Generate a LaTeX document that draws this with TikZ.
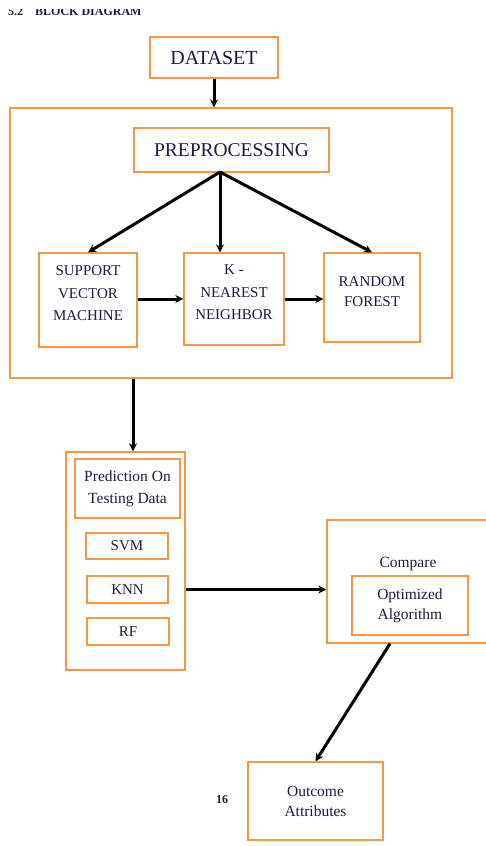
\documentclass[tikz,border=0pt]{standalone}
\usepackage{fontspec}
\setmainfont{Liberation Serif}
\usetikzlibrary{arrows.meta,positioning,calc}
\definecolor{boxline}{RGB}{247,150,70}
\definecolor{boxtext}{RGB}{28,28,62}
\tikzset{
  block/.style={rectangle,draw=boxline,line width=1.3pt,text=boxtext,align=center,inner sep=0pt},
  flow/.style={-{Stealth[length=8pt,width=8pt]},line width=3pt,black},
}

\begin{document}
\begin{tikzpicture}[x=1pt,y=-1pt]
  \useasboundingbox (0,0) rectangle (485,846);
  \begin{scope}
    \clip (0,9.5) rectangle (485,846);
    \node[anchor=base west,font=\fontsize{12}{14}\selectfont\bfseries,text=boxtext,inner sep=0pt] (title) at (8,15) {5.2\quad BLOCK DIAGRAM};
  \end{scope}
  % top part
  \node[block,minimum width=128pt,minimum height=41pt,font=\fontsize{20}{22}\selectfont] (dataset) at (214,57.5) {DATASET};
  \node[block,minimum width=442pt,minimum height=270pt] (models) at (231,243) {};
  \node[block,minimum width=195pt,minimum height=44pt,font=\fontsize{19.5}{22}\selectfont] (prep) at (231.5,150) {PREPROCESSING};
  \node[block,minimum width=98pt,minimum height=94pt,font=\fontsize{15}{22.5}\selectfont] (svm) at (88,300) {SUPPORT\\VECTOR\\MACHINE\\[-9pt]};
  \node[block,minimum width=100pt,minimum height=92pt,font=\fontsize{15}{22.5}\selectfont] (knn) at (234,299) {K -\\NEAREST\\NEIGHBOR\\[-9pt]};
  \node[block,minimum width=96pt,minimum height=89pt,font=\fontsize{15}{20}\selectfont] (rf) at (372,297.5) {RANDOM\\FOREST\\[-9pt]};
  \coordinate (fork) at (220,172);
  \draw[flow] (dataset.south) -- (dataset.south |- models.north);
  \draw[flow] (fork) -- (svm.north);
  \draw[flow] (fork) -- (fork |- knn.north);
  \draw[flow] (fork) -- (rf.north);
  \draw[flow] (svm.east |- 0,299) -- (knn.west |- 0,299);
  \draw[flow] (knn.east |- 0,299) -- (rf.west |- 0,299);
  % predictions
  \node[block,minimum width=119pt,minimum height=218pt] (pred) at (125.5,561) {};
  \node[block,minimum width=105pt,minimum height=59pt,font=\fontsize{15.5}{22}\selectfont] (predtest) at (127.5,488.5) {Prediction On\\Testing Data};
  \node[block,minimum width=82pt,minimum height=26pt,font=\fontsize{15}{17}\selectfont] (svmres) at (127,546) {SVM};
  \node[block,minimum width=81pt,minimum height=27pt,font=\fontsize{15}{17}\selectfont] (knnres) at (127.5,589.5) {KNN};
  \node[block,minimum width=82pt,minimum height=27pt,font=\fontsize{15}{17}\selectfont] (rfres) at (128,631.5) {RF};
  \draw[flow] (models.south -| 133,0) -- (pred.north -| 133,0);
  % compare and outcome
  \node[block,minimum width=168pt,minimum height=123pt] (compare) at (411,581.5) {};
  \node[font=\fontsize{15.5}{17}\selectfont,text=boxtext] (comparelbl) at (408,564) {Compare};
  \node[block,minimum width=116pt,minimum height=59pt,font=\fontsize{15.5}{20}\selectfont] (optim) at (410,605.5) {Optimized\\Algorithm};
  \node[block,minimum width=135pt,minimum height=78pt,font=\fontsize{15.5}{20}\selectfont] (outcome) at (315.5,801) {Outcome\\Attributes};
  \draw[flow] (pred.east |- knnres.east) -- (compare.west |- knnres.east);
  \draw[flow] ($(compare.south)+(-21,0)$) -- (outcome.north);
  \node[font=\fontsize{12}{14}\selectfont\bfseries,text=boxtext] (pagenum) at (222,800) {16};
\end{tikzpicture}
\end{document}
